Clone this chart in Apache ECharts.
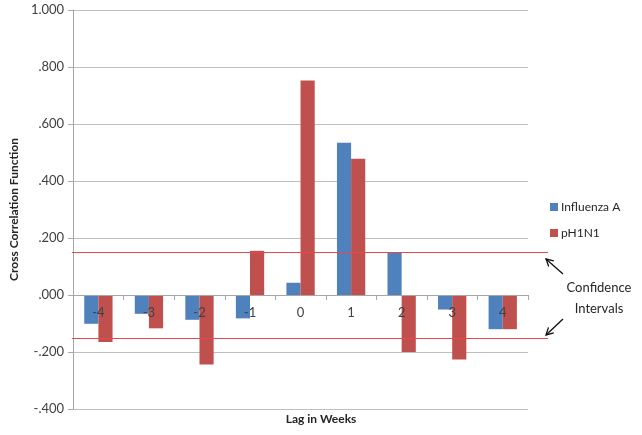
<!DOCTYPE html>
<html>
<head>
<meta charset="utf-8">
<script src="https://cdn.jsdelivr.net/npm/echarts@6/dist/echarts.min.js"></script>
<style>
  html, body { margin: 0; padding: 0; background: #fff; }
  #chart { width: 642px; height: 435px; }
</style>
</head>
<body>
<div id="chart"></div>
<script>
  // lag categories and the two cross correlation series
  var lags = ['-4', '-3', '-2', '-1', '0', '1', '2', '3', '4'];
  var influenzaA = [-0.101, -0.066, -0.087, -0.082, 0.043, 0.534, 0.148, -0.051, -0.120];
  var pH1N1 = [-0.165, -0.117, -0.244, 0.155, 0.753, 0.478, -0.200, -0.226, -0.120];
  // confidence interval bounds
  var ciUpper = 0.146;
  var ciLower = -0.151;

  var yMin = -0.4, yMax = 1.0;
  var gridTop = 10, gridBottom = 26;

  var font = 'Lato, "Liberation Sans", sans-serif';
  var myChart = echarts.init(document.getElementById('chart'));

  function fmt(v) {
    return v.toFixed(3).replace(/^(-?)0\./, '$1.');
  }

  // move the category axis up to the zero line
  var plotH = 435 - gridTop - gridBottom;
  var zeroOffset = -plotH * (0 - yMin) / (yMax - yMin);

  function arrow(x1, y1, x2, y2) {
    // line with an open head at (x2, y2)
    var a = Math.atan2(y2 - y1, x2 - x1);
    var h = 8, w = 0.5;
    return {
      type: 'group',
      children: [
        { type: 'line', shape: { x1: x1, y1: y1, x2: x2, y2: y2 }, style: { stroke: '#111', lineWidth: 1.3 } },
        { type: 'polyline', shape: { points: [
          [x2 - h * Math.cos(a - w), y2 - h * Math.sin(a - w)],
          [x2, y2],
          [x2 - h * Math.cos(a + w), y2 - h * Math.sin(a + w)]
        ] }, style: { stroke: '#111', lineWidth: 1.3, fill: null } }
      ]
    };
  }

  var option = {
    animation: false,
    textStyle: { fontFamily: font },
    title: {
      text: 'Lag in Weeks',
      left: 'center',
      top: 413,
      padding: 0,
      textStyle: { fontSize: 12, fontWeight: 'bold', color: '#262626', fontFamily: font }
    },
    legend: {
      orient: 'vertical',
      left: 545,
      top: 196,
      itemWidth: 8,
      itemHeight: 8,
      itemGap: 14,
      icon: 'rect',
      textStyle: { fontSize: 12, color: '#262626', fontFamily: font, padding: [0, 0, 0, -2] },
      data: ['Influenza A', 'pH1N1']
    },
    grid: [
      { left: 72, right: 114, top: gridTop, bottom: gridBottom },
      { left: 72, right: 94, top: gridTop, bottom: gridBottom }
    ],
    xAxis: [
      {
        type: 'category',
        data: lags,
        gridIndex: 0,
        position: 'bottom',
        offset: zeroOffset,
        z: 10,
        axisLine: { onZero: false, lineStyle: { color: '#a6a6a6' } },
        axisTick: { show: true, length: 5, lineStyle: { color: '#a6a6a6' } },
        axisLabel: { fontSize: 13, color: '#404040', margin: 11, fontFamily: font },
        splitLine: { show: false }
      },
      {
        type: 'value', gridIndex: 1, min: 0, max: 1, show: false
      }
    ],
    yAxis: [
      {
        type: 'value',
        gridIndex: 0,
        min: yMin,
        max: yMax,
        interval: 0.2,
        name: 'Cross Correlation Function',
        nameLocation: 'middle',
        nameGap: 50,
        nameTextStyle: { fontSize: 12, fontWeight: 'bold', color: '#262626', fontFamily: font },
        axisLine: { show: true, lineStyle: { color: '#a6a6a6' } },
        axisTick: { show: true, length: 5, lineStyle: { color: '#a6a6a6' } },
        axisLabel: { fontSize: 13, color: '#404040', margin: 9, formatter: fmt, fontFamily: font },
        splitLine: { show: true, lineStyle: { color: '#bfbfbf' } }
      },
      {
        type: 'value', gridIndex: 1, min: yMin, max: yMax, show: false
      }
    ],
    series: [
      {
        name: 'Influenza A',
        type: 'bar',
        data: influenzaA,
        barGap: '0%',
        barCategoryGap: '44%',
        itemStyle: { color: '#4f81bd' }
      },
      {
        name: 'pH1N1',
        type: 'bar',
        data: pH1N1,
        itemStyle: { color: '#c0504d' }
      },
      {
        name: 'ci',
        type: 'line',
        xAxisIndex: 1,
        yAxisIndex: 1,
        data: [],
        silent: true,
        markLine: {
          silent: true,
          symbol: 'none',
          label: { show: false },
          lineStyle: { color: '#e8474c', width: 1, type: 'solid' },
          data: [{ yAxis: ciUpper }, { yAxis: ciLower }]
        }
      }
    ],
    graphic: [
      { type: 'text', x: 599, y: 288, style: { text: 'Confidence', font: '13px ' + font, fill: '#262626', align: 'center', verticalAlign: 'middle' } },
      { type: 'text', x: 599, y: 309, style: { text: 'Intervals', font: '13px ' + font, fill: '#262626', align: 'center', verticalAlign: 'middle' } },
      arrow(563, 274, 546, 259),
      arrow(563, 319, 546, 335)
    ]
  };

  myChart.setOption(option);
</script>
</body>
</html>
